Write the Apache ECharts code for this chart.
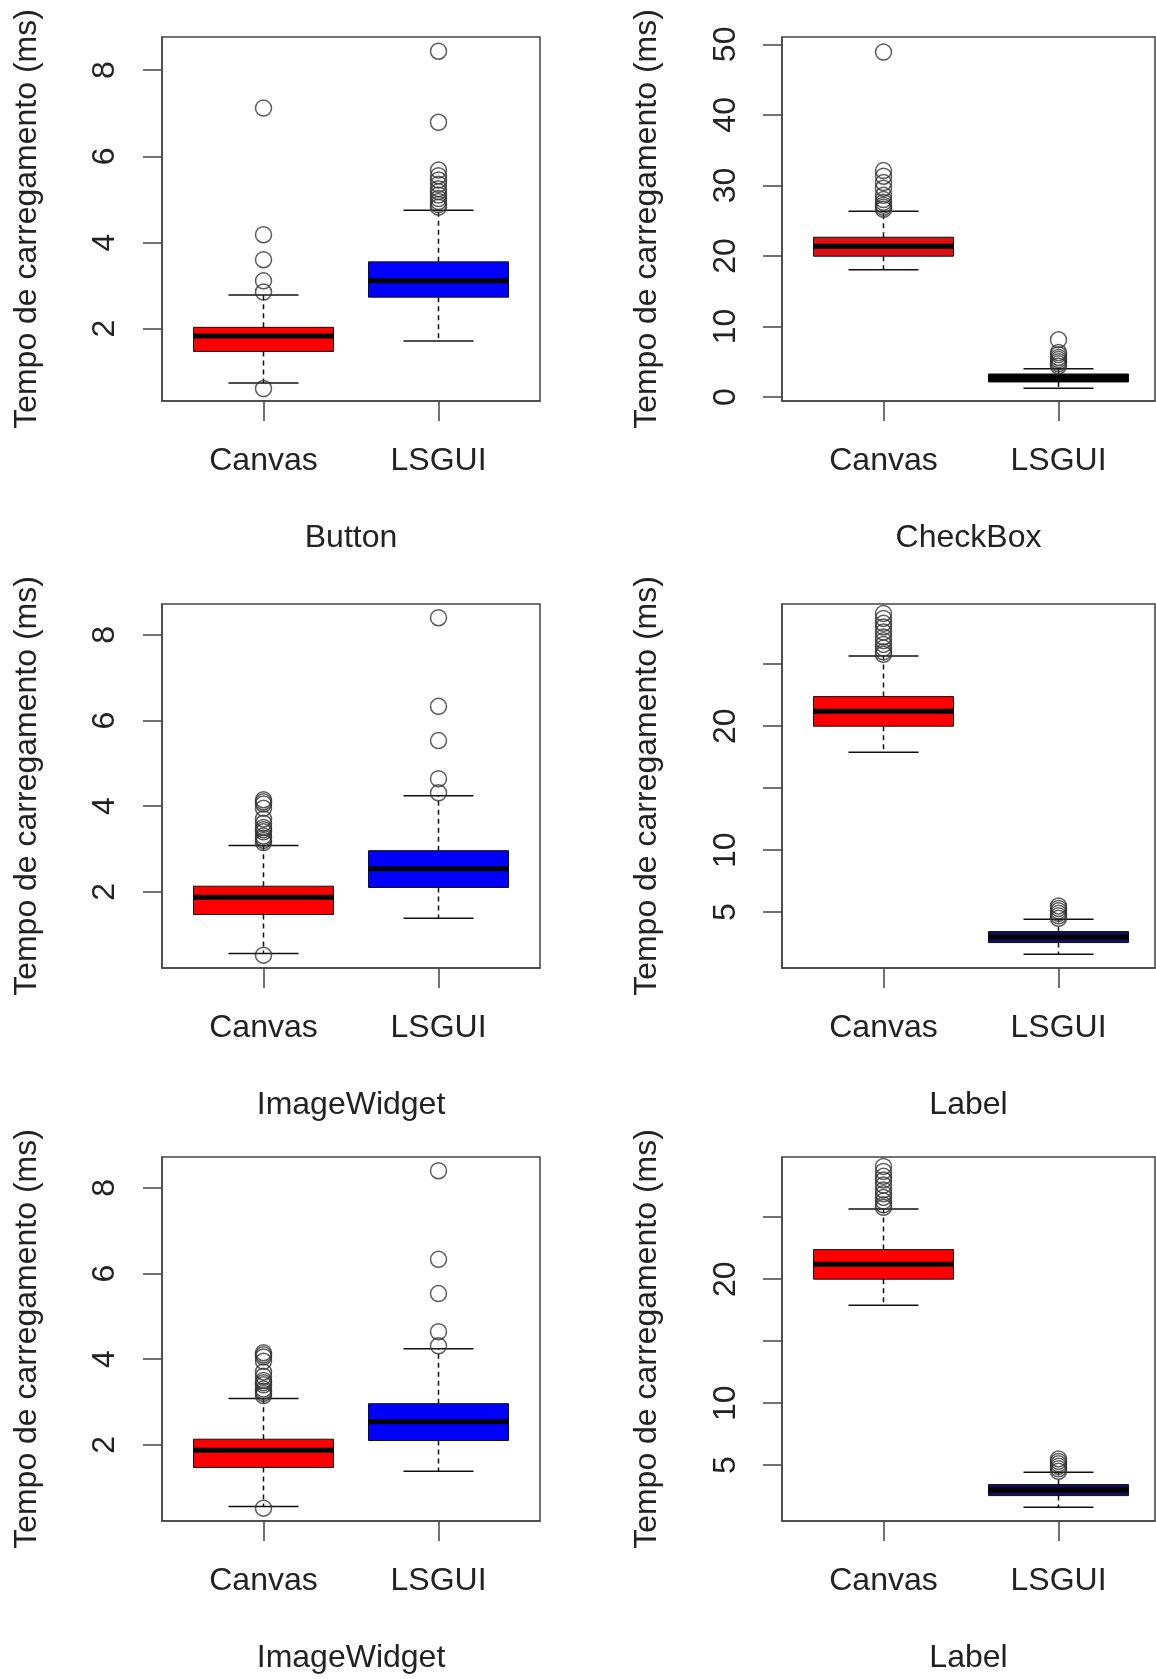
<!DOCTYPE html>
<html><head><meta charset="utf-8">
<script src="https://cdn.jsdelivr.net/npm/echarts@6/dist/echarts.min.js"></script>
<style>html,body{margin:0;padding:0;background:#fff}#c{width:1156px;height:1679px}</style>
</head><body><div id="c"></div>
<script>
// ---- data ----
const categories = ['Canvas', 'LSGUI'];
const categoryPositions = [1, 2];
const yTitle = 'Tempo de carregamento (ms)';
// box stats: [lower whisker, Q1, median, Q3, upper whisker]
const buttonCanvasStats = [0.74, 1.47, 1.83, 2.03, 2.78];
const buttonLsguiStats = [1.71, 2.73, 3.11, 3.55, 4.75];
const buttonCanvasOutliers = [7.12, 4.18, 3.60, 3.11, 2.85, 0.61];
const buttonLsguiOutliers = [8.44, 6.79, 5.68, 5.55, 5.45, 5.35, 5.25, 5.18, 5.10, 5.02, 4.95, 4.88, 4.82];
const buttonTicks = [2, 4, 6, 8];
const buttonRange = [0.32, 8.77];

const checkboxCanvasStats = [18.03, 19.96, 21.38, 22.65, 26.35];
const checkboxLsguiStats = [1.23, 2.13, 2.70, 3.26, 4.00];
const checkboxCanvasOutliers = [48.9, 32.1, 31.3, 30.4, 29.6, 28.6, 28.0, 27.6, 27.2, 26.9, 26.6];
const checkboxLsguiOutliers = [8.1, 6.3, 6.0, 5.6, 5.3, 5.0, 4.7, 4.4];
const checkboxTicks = [0, 10, 20, 30, 40, 50];
const checkboxRange = [-0.57, 51.04];

const imageCanvasStats = [0.56, 1.47, 1.87, 2.13, 3.08];
const imageLsguiStats = [1.38, 2.10, 2.54, 2.96, 4.24];
const imageCanvasOutliers = [0.52, 4.15, 4.10, 4.05, 3.95, 3.70, 3.60, 3.50, 3.45, 3.40, 3.30, 3.25, 3.20, 3.15];
const imageLsguiOutliers = [8.40, 6.33, 5.53, 4.64, 4.31];
const imageTicks = [2, 4, 6, 8];
const imageRange = [0.22, 8.72];

const labelCanvasStats = [17.89, 20.0, 21.2, 22.39, 25.67];
const labelLsguiStats = [1.6, 2.54, 3.0, 3.43, 4.43];
const labelCanvasOutliers = [29.1, 28.7, 28.3, 28.0, 27.6, 27.2, 26.9, 26.6, 26.3, 26.0, 25.8];
const labelLsguiOutliers = [5.5, 5.3, 5.1, 4.9, 4.7, 4.5];
const labelTicks = [5, 10, 15, 20, 25];
const labelTickLabels = [5, 10, 20];
const labelRange = [0.49, 29.86];

// ---- layout / style ----
const FONT = '"Liberation Sans", Arial, Helvetica, sans-serif';
const FS = 32;
const TXT = '#222';
const LINE = '#444';
const colLeft = [162, 782];
const colWidth = [378, 373];
const colXMax = [2.58, 2.5514];
const rowTop = [37, 604, 1157];
const gridH = 364;

const panels = [
  {name: 'Button', stats: [buttonCanvasStats, buttonLsguiStats], out: [buttonCanvasOutliers, buttonLsguiOutliers],
   ticks: buttonTicks, labels: buttonTicks, range: buttonRange, fills: ['#ff0000', '#0000ff'], col: 0, row: 0},
  {name: 'CheckBox', stats: [checkboxCanvasStats, checkboxLsguiStats], out: [checkboxCanvasOutliers, checkboxLsguiOutliers],
   ticks: checkboxTicks, labels: checkboxTicks, range: checkboxRange, fills: ['#dd1111', '#000000'], col: 1, row: 0},
  {name: 'ImageWidget', stats: [imageCanvasStats, imageLsguiStats], out: [imageCanvasOutliers, imageLsguiOutliers],
   ticks: imageTicks, labels: imageTicks, range: imageRange, fills: ['#ff0000', '#0000ff'], col: 0, row: 1},
  {name: 'Label', stats: [labelCanvasStats, labelLsguiStats], out: [labelCanvasOutliers, labelLsguiOutliers],
   ticks: labelTicks, labels: labelTickLabels, range: labelRange, fills: ['#ff0000', '#10105e'], col: 1, row: 1},
  {name: 'ImageWidget', stats: [imageCanvasStats, imageLsguiStats], out: [imageCanvasOutliers, imageLsguiOutliers],
   ticks: imageTicks, labels: imageTicks, range: imageRange, fills: ['#ff0000', '#0000ff'], col: 0, row: 2},
  {name: 'Label', stats: [labelCanvasStats, labelLsguiStats], out: [labelCanvasOutliers, labelLsguiOutliers],
   ticks: labelTicks, labels: labelTickLabels, range: labelRange, fills: ['#ff0000', '#10105e'], col: 1, row: 2}
];

function makeRender(fills) {
  return function (params, api) {
    const x = api.value(0);
    const idx = api.value(6);
    const c = v => api.coord([x, v]);
    const lo = c(api.value(1)), q1 = c(api.value(2)), md = c(api.value(3)), q3 = c(api.value(4)), hi = c(api.value(5));
    const bw = api.size([0.8, 0])[0];
    const cx = lo[0];
    const sw = bw / 4;
    const dash = {stroke: '#111', lineWidth: 1.5, lineDash: [5, 4]};
    const solid = {stroke: '#111', lineWidth: 1.5};
    return {type: 'group', children: [
      {type: 'line', shape: {x1: cx, y1: q3[1], x2: cx, y2: hi[1]}, style: dash},
      {type: 'line', shape: {x1: cx, y1: q1[1], x2: cx, y2: lo[1]}, style: dash},
      {type: 'line', shape: {x1: cx - sw, y1: hi[1], x2: cx + sw, y2: hi[1]}, style: solid},
      {type: 'line', shape: {x1: cx - sw, y1: lo[1], x2: cx + sw, y2: lo[1]}, style: solid},
      {type: 'rect', shape: {x: cx - bw / 2, y: q3[1], width: bw, height: q1[1] - q3[1]},
       style: {fill: fills[idx], stroke: '#111', lineWidth: 1}},
      {type: 'line', shape: {x1: cx - bw / 2, y1: md[1], x2: cx + bw / 2, y2: md[1]},
       style: {stroke: '#000', lineWidth: 5}}
    ]};
  };
}

const grid = [], xAxis = [], yAxis = [], series = [];
panels.forEach((p, k) => {
  grid.push({left: colLeft[p.col], top: rowTop[p.row], width: colWidth[p.col], height: gridH,
    show: true, borderColor: LINE, borderWidth: 1.5, backgroundColor: 'transparent',
    containLabel: false, outerBoundsMode: 'none'});
  xAxis.push({type: 'value', gridIndex: k, min: 0.42, max: colXMax[p.col],
    axisLine: {show: true, onZero: false, lineStyle: {color: LINE, width: 1.5}},
    axisTick: {show: true, customValues: categoryPositions, length: 20, lineStyle: {color: LINE, width: 1.5}},
    axisLabel: {show: true, customValues: categoryPositions, formatter: v => categories[Math.round(v) - 1],
      fontSize: FS, color: TXT, fontFamily: FONT, margin: 44},
    splitLine: {show: false},
    name: p.name, nameLocation: 'middle', nameGap: 121,
    nameTextStyle: {fontSize: FS, color: TXT, fontFamily: FONT}});
  yAxis.push({type: 'value', gridIndex: k, min: p.range[0], max: p.range[1],
    axisLine: {show: true, onZero: false, lineStyle: {color: LINE, width: 1.5}},
    axisTick: {show: true, customValues: p.ticks, length: 19, lineStyle: {color: LINE, width: 1.5}},
    axisLabel: {show: true, customValues: p.labels, rotate: 90, fontSize: FS, color: TXT, fontFamily: FONT,
      margin: p.col === 0 ? 41 : 40},
    splitLine: {show: false},
    name: yTitle, nameLocation: 'middle', nameGap: 119, nameRotate: 90,
    nameTextStyle: {fontSize: FS, color: TXT, fontFamily: FONT}});
  const boxData = p.stats.map((s, i) => [categoryPositions[i]].concat(s).concat([i]));
  series.push({type: 'custom', xAxisIndex: k, yAxisIndex: k, renderItem: makeRender(p.fills),
    encode: {x: 0, y: [1, 2, 3, 4, 5]}, data: boxData, silent: true, z: 2});
  const outData = [];
  p.out.forEach((arr, i) => arr.forEach(v => outData.push([categoryPositions[i], v])));
  series.push({type: 'scatter', xAxisIndex: k, yAxisIndex: k, data: outData, symbol: 'circle', symbolSize: 16,
    itemStyle: {color: 'rgba(0,0,0,0)', borderColor: '#333', borderWidth: 1.5}, silent: true, z: 3});
});

const chart = echarts.init(document.getElementById('c'), null, {renderer: 'canvas'});
chart.setOption({animation: false, backgroundColor: '#fff', grid, xAxis, yAxis, series});
</script></body></html>
